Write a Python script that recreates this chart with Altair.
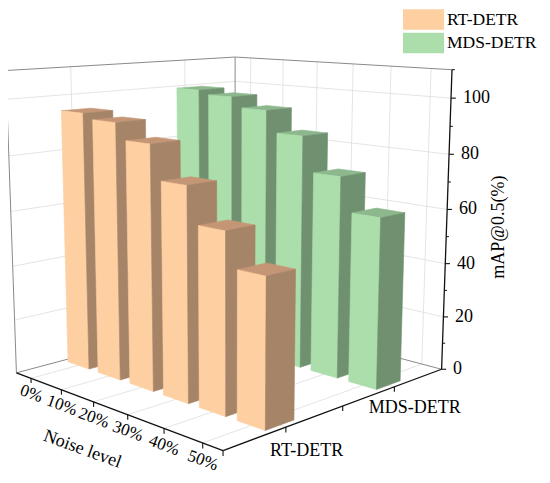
import math
import altair as alt

# ---------------- data ----------------
noise_levels = ["0%", "10%", "20%", "30%", "40%", "50%"]
models = ["RT-DETR", "MDS-DETR"]
rt_detr = [94.6, 92.7, 86.9, 74.9, 62.3, 50.5]
mds_detr = [99.4, 97.9, 94.1, 86.2, 73.5, 61.3]
z_major = [0, 20, 40, 60, 80, 100]
z_minor = [10, 30, 50, 70, 90, 110]
z_title = "mAP@0.5(%)"
x_title = "Noise level"
values = {"RT-DETR": rt_detr, "MDS-DETR": mds_detr}

# ---------------- 3-D view (camera) ----------------
CX, CY, FOC = 230.0, 224.2, 1224.0
PHI = math.radians(11.1)
DIST, ZT = 439.3, 55.0
SX, SY, ZMAX = 107.5, 113.5, 110.0
WX, WY = 6.3, 6.8
MARGIN = 8
W, H = 534, 467
R2 = math.sqrt(2)


def proj(X, Y, Z):
    px, py, c = X - SX / 2, Y - SY / 2, Z - ZT
    a = (-px + py) / R2
    b = (px + py) / R2
    depth = a * math.cos(PHI) - c * math.sin(PHI) + DIST
    u = CX + FOC * b / depth
    v = CY - FOC * (a * math.sin(PHI) + c * math.cos(PHI)) / depth
    return [round(u, 2), round(v, 2)]


def depth_key(X, Y):
    return (-(X - SX / 2) + (Y - SY / 2)) / R2


x_pos = [(i + 0.5) * SX / len(noise_levels) for i in range(len(noise_levels))]
y_pos = [SY * (2 * j + 1) / (2 * len(models)) for j in range(len(models))]

colors = {
    "RT-DETR": "#FDCFA1", "RT-DETR side": "#A68468", "RT-DETR top": "#C49675",
    "MDS-DETR": "#ABDEAB", "MDS-DETR side": "#709170", "MDS-DETR top": "#8DB88D",
}

# ---------------- bar faces (painter's order) ----------------
bars = []
for j, m in enumerate(models):
    for i in range(len(noise_levels)):
        bars.append((depth_key(x_pos[i], y_pos[j]), i, j, m, values[m][i]))
bars.sort(key=lambda t: -t[0])

faces = []
for _, i, j, m, h in bars:
    x0, x1 = x_pos[i] - WX, x_pos[i] + WX
    y0, y1 = y_pos[j] - WY, y_pos[j] + WY
    for kind, pts in [
        ("top", [(x0, y0, h), (x1, y0, h), (x1, y1, h), (x0, y1, h)]),
        ("front", [(x0, y0, 0), (x1, y0, 0), (x1, y0, h), (x0, y0, h)]),
        ("side", [(x1, y0, 0), (x1, y1, 0), (x1, y1, h), (x1, y0, h)]),
    ]:
        ring = [proj(*p) for p in pts]
        ring.append(ring[0])
        key = m if kind == "front" else f"{m} {kind}"
        faces.append({
            "type": "Feature",
            "geometry": {"type": "Polygon", "coordinates": [ring]},
            "properties": {"key": key, "color": colors[key]},
        })

# ---------------- box, grid and axes ----------------
GRID, EDGE, AXIS = "#dddddd", "#8a8a8a", "#111111"


def seg(p, q, color, width):
    return {
        "type": "Feature",
        "geometry": {"type": "LineString", "coordinates": [proj(*p), proj(*q)]},
        "properties": {"color": color, "width": width},
    }


bg = []
for z in z_major[1:]:
    bg.append(seg((0, 0, z), (0, SY, z), GRID, 0.8))
    bg.append(seg((0, SY, z), (SX, SY, z), GRID, 0.8))
for y in y_pos:
    bg.append(seg((0, y, 0), (0, y, ZMAX), GRID, 0.8))
    bg.append(seg((0, y, 0), (SX, y, 0), GRID, 0.8))
for x in x_pos:
    bg.append(seg((x, SY, 0), (x, SY, ZMAX), GRID, 0.8))
    bg.append(seg((x, 0, 0), (x, SY, 0), GRID, 0.8))
for p, q in [((0, 0, 0), (0, 0, ZMAX)), ((0, SY, 0), (0, SY, ZMAX)),
             ((0, 0, ZMAX), (0, SY, ZMAX)), ((0, SY, ZMAX), (SX, SY, ZMAX)),
             ((0, 0, 0), (0, SY, 0)), ((0, SY, 0), (SX, SY, 0))]:
    bg.append(seg(p, q, EDGE, 1.0))

ax = []
ax.append(seg((0, 0, 0), (SX, 0, 0), AXIS, 1.3))
ax.append(seg((SX, 0, 0), (SX, SY, 0), AXIS, 1.3))
ax.append(seg((SX, SY, 0), (SX, SY, ZMAX), AXIS, 1.3))
for x in x_pos:
    ax.append(seg((x, 0, 0), (x, 0, -1.8), AXIS, 1.1))
for y in [0, SY / 4, SY / 2, 3 * SY / 4]:
    ax.append(seg((SX, y, 0), (SX, y, -1.8), AXIS, 1.1))
for z in z_major:
    ax.append(seg((SX, SY, z), (SX + 1.2, SY + 1.2, z), AXIS, 1.1))
for z in z_minor:
    ax.append(seg((SX, SY, z), (SX + 0.7, SY + 0.7, z), AXIS, 1.0))

PROJ = dict(type="identity", scale=1, translate=[-MARGIN, -MARGIN])
FONT = "Liberation Serif"


def lines_layer(feats):
    return alt.Chart(alt.Data(values=feats)).mark_geoshape(filled=False).encode(
        stroke=alt.Color("properties.color:N", scale=None),
        strokeWidth=alt.StrokeWidth("properties.width:Q", scale=None),
    ).project(**PROJ)


face_layer = alt.Chart(alt.Data(values=faces)).mark_geoshape(strokeWidth=0.6).encode(
    fill=alt.Color(
        "properties.key:N",
        scale=alt.Scale(domain=list(colors.keys()), range=list(colors.values())),
        legend=alt.Legend(
            values=models, title=None, orient="none", legendX=405, legendY=1,
            symbolType="M-2,-1H2V1H-2Z", symbolSize=420, symbolStrokeWidth=0,
            symbolOpacity=1, labelFont=FONT, labelFontSize=17.5, labelColor="black",
            labelOffset=13, rowPadding=2.5, padding=0,
        ),
    ),
    stroke=alt.Color("properties.color:N", scale=None),
).project(**PROJ)


def text_layer(rows, size=18, **kw):
    return alt.Chart(alt.Data(values=rows)).mark_text(
        font=FONT, fontSize=size, color="black", **kw
    ).encode(
        longitude="lon:Q", latitude="lat:Q", text="label:N"
    ).project(**PROJ)


def pt(label, p):
    u, v = proj(*p)
    return {"lon": u, "lat": v, "label": label}


z_labels = [pt(str(z), (SX + 3, SY + 3, z)) for z in z_major]
x_labels = [pt(n, (x, 0, -5.8)) for n, x in zip(noise_levels, x_pos)]
y_labels = [pt(m, (SX + 9, y, -5.5)) for m, y in zip(models, y_pos)]
z_tit = [pt(z_title, (SX + 13.5, SY + 13.5, 53.5))]
x_tit = [pt(x_title, (38, 0, -19.0))]

chart = alt.layer(
    lines_layer(bg),
    face_layer,
    lines_layer(ax),
    text_layer(z_labels, align="left", baseline="middle"),
    text_layer(x_labels, size=17, align="center", baseline="middle", angle=20),
    text_layer(y_labels, align="center", baseline="middle"),
    text_layer(z_tit, align="center", baseline="middle", angle=270),
    text_layer(x_tit, align="center", baseline="middle", angle=20),
).properties(
    width=W, height=H, padding=0, autosize="none"
).configure_view(stroke=None)

chart.save("out.html", embed_options={"renderer": "svg", "actions": False})
